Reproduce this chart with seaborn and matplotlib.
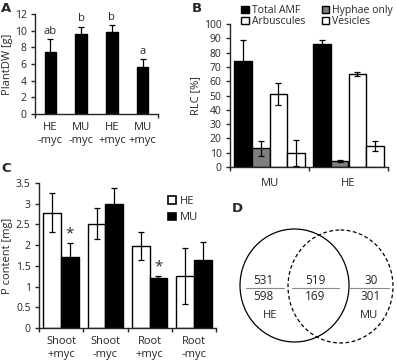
#!/usr/bin/env python3
"""Four-panel figure: plant dry weight, root colonisation, P content and a Venn diagram."""

import matplotlib
matplotlib.use("Agg")
import matplotlib.pyplot as plt
from matplotlib.patches import Rectangle, Ellipse
import pandas as pd
import seaborn as sns

# ---------------- DATA ----------------
# panel A
a_groups = ["HE\n-myc", "MU\n-myc", "HE\n+myc", "MU\n+myc"]
a_dw = [7.5, 9.6, 9.9, 5.6]
a_err = [1.5, 0.9, 0.8, 1.0]
a_letters = ["ab", "b", "b", "a"]

# panel B
b_genotypes = ["MU", "HE"]
b_structures = ["Total AMF", "Hyphae only", "Arbuscules", "Vesicles"]
b_mu = [74, 13, 51, 10]
b_mu_err = [15, 5, 7.5, 9]
b_he = [86, 4, 65, 15]
b_he_err = [3, 0.7, 1.5, 3.5]

# panel C
c_tissues = ["Shoot\n+myc", "Shoot\n-myc", "Root\n+myc", "Root\n-myc"]
c_he = [2.78, 2.52, 1.98, 1.26]
c_he_err = [0.47, 0.37, 0.33, 0.68]
c_mu = [1.71, 3.00, 1.20, 1.63]
c_mu_err = [0.35, 0.37, 0.06, 0.45]
c_sig = [True, False, True, False]

# panel D (upper / lower numbers)
d_only_he = ["531", "598"]
d_both = ["519", "169"]
d_only_mu = ["30", "301"]

# ---------------- STYLE ----------------
sns.set_style("ticks")
plt.rcParams["font.family"] = ["Open Sans", "DejaVu Sans"]
plt.rcParams["font.size"] = 7.5
plt.rcParams["axes.linewidth"] = 1.0

W, H = 397, 361
fig = plt.figure(figsize=(W / 100, H / 100), dpi=100)


def box(l, t, r, b):
    """pixel box -> figure fraction rect"""
    return [l / W, 1 - b / H, (r - l) / W, (b - t) / H]


def style_axis(ax, bounds):
    sns.despine(ax=ax)
    ax.tick_params(axis="y", length=3, width=1, pad=3, labelsize=7.5)
    ax.tick_params(axis="x", which="major", length=0, pad=6, labelsize=8)
    ax.tick_params(axis="x", which="minor", length=3, width=1)
    ax.set_xticks(bounds, minor=True)
    ax.set_xlabel("")
    for t in ax.get_xticklabels():
        t.set_linespacing(1.15)


def add_errors(ax, values, errors):
    for cont, vals, errs in zip(ax.containers, values, errors):
        for bar, v, e in zip(cont, vals, errs):
            x = bar.get_x() + bar.get_width() / 2
            ax.errorbar(x, v, yerr=e, color="black", lw=0.9, capsize=2.5,
                        capthick=0.9, zorder=5)


# ---------------- PANEL A ----------------
dfa = pd.DataFrame({"group": a_groups, "dw": a_dw})
axA = fig.add_axes(box(35, 14, 158, 114))
sns.barplot(data=dfa, x="group", y="dw", color="black", width=0.37,
            edgecolor="black", linewidth=1, errorbar=None, ax=axA)
add_errors(axA, [a_dw], [a_err])
for i, (v, e, lab) in enumerate(zip(a_dw, a_err, a_letters)):
    axA.text(i, v + e + 0.25, lab, ha="center", va="bottom", fontsize=8)
axA.set_xlim(-0.5, 3.5)
axA.set_ylim(0, 12)
axA.set_yticks(range(0, 13, 2))
style_axis(axA, [-0.5, 3.5])
axA.set_ylabel("PlantDW [g]", fontsize=8, labelpad=1)

# ---------------- PANEL B ----------------
dfb = pd.DataFrame({
    "genotype": [g for g in b_genotypes for _ in b_structures],
    "structure": b_structures * 2,
    "rlc": b_mu + b_he,
})
axB = fig.add_axes(box(230, 24, 388, 167))
b_colors = ["black", "#7f7f7f", "white", "white"]
sns.barplot(data=dfb, x="genotype", y="rlc", hue="structure",
            hue_order=b_structures, palette=b_colors, width=0.9,
            edgecolor="black", linewidth=1, errorbar=None, legend=False,
            ax=axB)
add_errors(axB, [[b_mu[k], b_he[k]] for k in range(4)],
           [[b_mu_err[k], b_he_err[k]] for k in range(4)])
axB.set_xlim(-0.5, 1.5)
axB.set_ylim(0, 100)
axB.set_yticks(range(0, 101, 10))
style_axis(axB, [-0.5, 0.5, 1.5])
axB.tick_params(axis="x", which="major", pad=8)
axB.set_ylabel("RLC [%]", fontsize=8, labelpad=2)
handles = [Rectangle((0, 0), 1, 1, fc=c, ec="black", lw=1)
           for c in b_colors]
order = [0, 2, 1, 3]
fig.legend([handles[k] for k in order], [b_structures[k] for k in order],
           loc="upper left", bbox_to_anchor=(235 / W, 1 + 1 / H), ncol=2,
           frameon=False, fontsize=7.5, handlelength=0.7, handleheight=0.7,
           handletextpad=0.3, columnspacing=1.6, labelspacing=0.0,
           borderpad=0.1)

# ---------------- PANEL C ----------------
dfc = pd.DataFrame({
    "tissue": c_tissues * 2,
    "line": ["HE"] * 4 + ["MU"] * 4,
    "p": c_he + c_mu,
})
axC = fig.add_axes(box(39, 183, 216, 328))
sns.barplot(data=dfc, x="tissue", y="p", hue="line", hue_order=["HE", "MU"],
            palette=["white", "black"], width=0.8, edgecolor="black",
            linewidth=1, errorbar=None, legend=False, ax=axC)
add_errors(axC, [c_he, c_mu], [c_he_err, c_mu_err])
for cont_bar, v, e, s in zip(axC.containers[1], c_mu, c_mu_err, c_sig):
    if s:
        axC.text(cont_bar.get_x() + cont_bar.get_width() / 2, v + e + 0.03,
                 "*", ha="center", va="bottom", fontsize=11)
axC.set_xlim(-0.5, 3.5)
axC.set_ylim(0, 3.5)
axC.set_yticks([0, 0.5, 1, 1.5, 2, 2.5, 3, 3.5])
axC.set_yticklabels(["0", "0.5", "1", "1.5", "2", "2.5", "3", "3.5"])
style_axis(axC, [-0.5, 0.5, 1.5, 2.5, 3.5])
axC.set_ylabel("P content [mg]", fontsize=8, labelpad=2)
hc = [Rectangle((0, 0), 1, 1, fc=c, ec="black", lw=1.2)
      for c in ["white", "black"]]
axC.legend(hc, ["HE", "MU"], loc="upper left",
           bbox_to_anchor=(0.7, 0.95), frameon=False, fontsize=8,
           handlelength=0.7, handleheight=0.7, handletextpad=0.3,
           labelspacing=0.5, borderpad=0)

# ---------------- PANEL D ----------------
axD = fig.add_axes(box(225, 220, 397, 355))
axD.set_xlim(225, 397)
axD.set_ylim(355, 220)
axD.axis("off")
axD.add_patch(Ellipse((294.5, 285.5), 109, 113, fill=False, ec="black",
                      lw=0.9))
axD.add_patch(Ellipse((340.5, 286.5), 105, 113, fill=False, ec="black",
                      lw=0.9, ls=(0, (3, 2))))
for cx, (x0, x1), nums in [(263, (246, 284), d_only_he),
                           (315, (292, 339), d_both),
                           (371, (349, 389), d_only_mu)]:
    axD.plot([x0, x1], [288, 288], color="#8a8a8a", lw=0.8)
    axD.text(cx, 286.5, nums[0], ha="center", va="bottom", fontsize=8.5)
    axD.text(cx, 289.5, nums[1], ha="center", va="top", fontsize=8.5)
axD.text(270, 316, "HE", ha="center", va="center", fontsize=8)
axD.text(369, 316, "MU", ha="center", va="center", fontsize=8)

# ---------------- PANEL LABELS ----------------
for lab, x, y in [("A", 6, 9), ("B", 197, 9), ("C", 6, 168), ("D", 237, 208)]:
    fig.text(x / W, 1 - y / H, lab, ha="center", va="center",
             fontsize=9.5, fontweight="bold", family="DejaVu Sans")

fig.savefig("out.png", dpi=100)
